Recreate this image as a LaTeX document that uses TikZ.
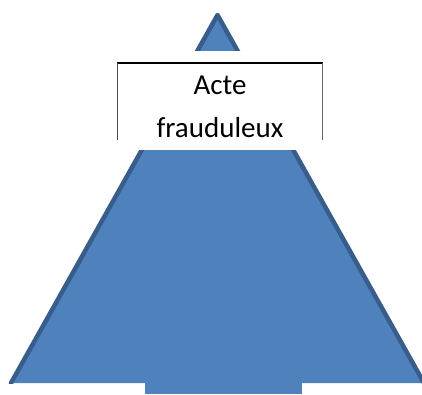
\documentclass[tikz,border=0pt]{standalone}
\usepackage{fontspec}
\setmainfont{Carlito}
\definecolor{pyrfill}{HTML}{4F81BD}
\definecolor{pyrline}{HTML}{385D8A}
\begin{document}
\begin{tikzpicture}[x=1pt,y=-1pt,
  pyrside/.style={draw=pyrline,line width=4.5pt,line join=round,line cap=round},
  lbl/.style={anchor=base,inner sep=0pt,font=\fontsize{29}{35}\selectfont}]
\useasboundingbox (0,0) rectangle (422,394);
\coordinate (apex) at (217.5,15);
\coordinate (bl) at (11,383);
\coordinate (br) at (424,383);
% pyramid
\fill[pyrfill] (apex) -- (bl) -- (br) -- cycle;
\begin{scope}
  \clip (0,0) rectangle (422,383);
  \draw[pyrside] (bl) -- (apex) -- (br);
\end{scope}
% base block
\fill[pyrfill] (145,383) rectangle (302,394);
% text box
\fill[white] (117,51) rectangle (323,150);
\draw[black,line width=1.2pt] (117,63) -- (323,63);
\draw[black!70,line width=1pt] (117.5,63) -- (117.5,140);
\draw[black!60,line width=1.6pt] (322.5,63) -- (322.5,140);
\node[lbl] (acte) at (220,94.5) {Acte};
\node[lbl] (fraud) at (220,137) {frauduleux};
\end{tikzpicture}
\end{document}
